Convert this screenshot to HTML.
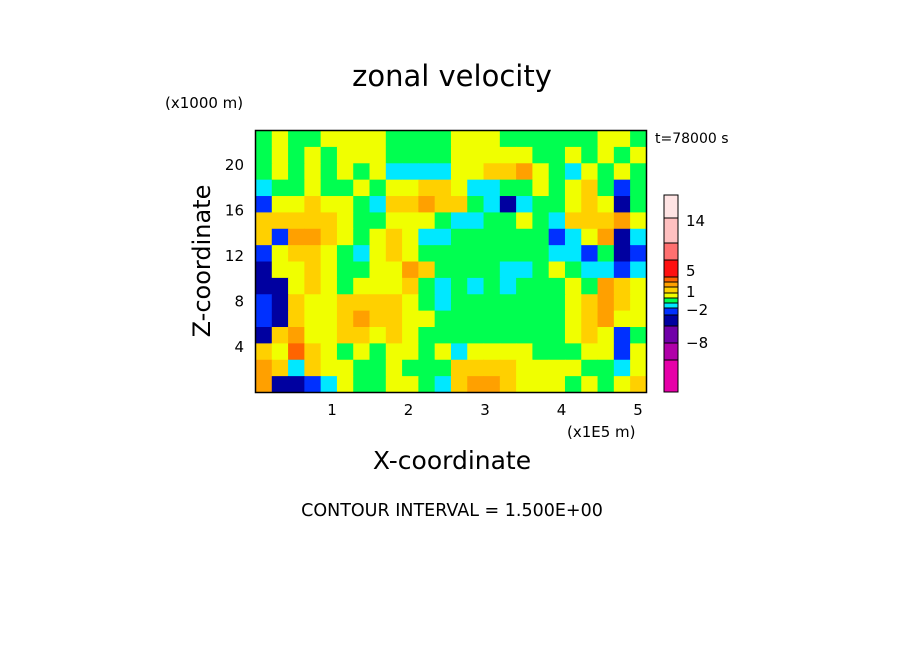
<!DOCTYPE html>
<html><head><meta charset="utf-8"><style>
body{margin:0;background:#fff;width:904px;height:654px;overflow:hidden}
svg text{font-family:"DejaVu Sans","Liberation Sans",sans-serif;fill:#000}
</style></head><body>
<svg width="904" height="654">
<text x="452" y="86" font-size="29" text-anchor="middle">zonal velocity</text>
<text x="165" y="108" font-size="15">(x1000 m)</text>
<text x="655" y="143" font-size="14">t=78000 s</text>
<g id="field"></g>
<rect x="255.5" y="130.5" width="391" height="262" fill="none" stroke="#000" stroke-width="1.5"/>
<g id="ticks"></g>
<text x="567" y="437" font-size="15">(x1E5 m)</text>
<text x="452" y="469" font-size="25" text-anchor="middle">X-coordinate</text>
<text transform="translate(210,261) rotate(-90)" font-size="24" text-anchor="middle">Z-coordinate</text>
<g id="cbar"></g>
<text x="452" y="516" font-size="17.5" text-anchor="middle">CONTOUR INTERVAL = 1.500E+00</text>
</svg>
<script>
const colors=["#e600a8","#b000a8","#7000a8","#0000a0","#0030ff","#00e8ff","#00ff50","#f0ff00","#ffd000","#ffa000","#ff6400","#ff1010","#ff7070","#ffc0c0","#ffe4e4"];
const gridRows=[
"676677776666777666666776",
"676767776666777776676767",
"676767675555778897657676",
"566766767788755667678646",
"477877658898865356678736",
"888887667776556676588897",
"849987678755666666457935",
"478876578766666666554634",
"377876677986666556765545",
"337876777865656566676987",
"438778888765666666678987",
"438778988776666666678977",
"389778878766666666678746",
"87a876767767577776667747",
"985877667666888877776657",
"933457667765899877767678"];
const xTicks=[1,2,3,4,5];
const yTicks=[4,8,12,16,20];
const cbBounds=[0,32,49,66,77,84,89,94,99,105,110,115,132,149,174,197];
const cbLabels=[["14",221],["5",271],["1",292],["\u22122",310],["\u22128",343]];
const X0=255.5,XU=76.5,Y0=392.5,YU=11.375,XMAX=5.11,ZMAX=23.03;
const sx=v=>X0+v*XU, sy=v=>Y0-v*YU;
const NS="http://www.w3.org/2000/svg";
const f=document.getElementById('field');
const nr=gridRows.length,nc=gridRows[0].length;
for(let r=0;r<nr;r++)for(let c=0;c<nc;c++){
 const lv=parseInt(gridRows[r][c],16);
 const xa=sx(c*XMAX/nc),xb=sx((c+1)*XMAX/nc),ya=sy(ZMAX-r*ZMAX/nr),yb=sy(ZMAX-(r+1)*ZMAX/nr);
 const e=document.createElementNS(NS,'rect');
 e.setAttribute('x',xa);e.setAttribute('y',ya);e.setAttribute('width',xb-xa+0.5);e.setAttribute('height',yb-ya+0.5);
 e.setAttribute('fill',colors[lv]);
 
 
 f.appendChild(e);}
const t=document.getElementById('ticks');
xTicks.forEach(v=>{const e=document.createElementNS(NS,'text');e.setAttribute('x',sx(v));e.setAttribute('y',415);e.setAttribute('font-size','15');e.setAttribute('text-anchor','middle');e.textContent=v;


t.appendChild(e);});
yTicks.forEach(v=>{const e=document.createElementNS(NS,'text');e.setAttribute('x',244);e.setAttribute('y',sy(v)+5);e.setAttribute('font-size','15');e.setAttribute('text-anchor','end');e.textContent=v;


t.appendChild(e);});
const cb=document.getElementById('cbar');
for(let i=0;i<15;i++){const e=document.createElementNS(NS,'rect');
 const yb=392-cbBounds[i],ya=392-cbBounds[i+1];
 e.setAttribute('x',664);e.setAttribute('y',ya);e.setAttribute('width',14);e.setAttribute('height',yb-ya);e.setAttribute('fill',colors[i]);e.setAttribute('stroke','#000');e.setAttribute('stroke-width','1');
 
 
 cb.appendChild(e);}
cbLabels.forEach(l=>{const e=document.createElementNS(NS,'text');e.setAttribute('x',686);e.setAttribute('y',l[1]+5);e.setAttribute('font-size','15');e.textContent=l[0];


cb.appendChild(e);});
</script>
</body></html>
